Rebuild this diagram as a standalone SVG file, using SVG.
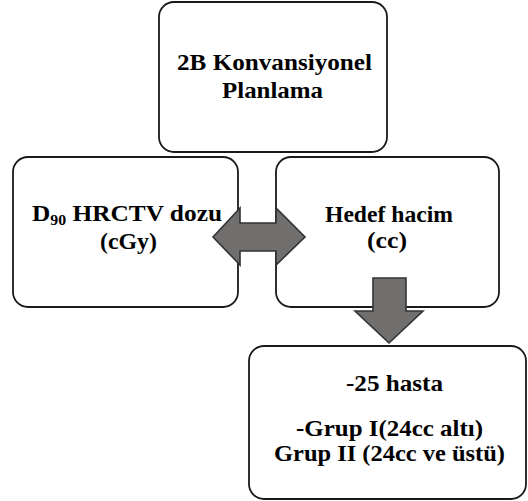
<svg xmlns="http://www.w3.org/2000/svg" width="528" height="501" viewBox="0 0 528 501">
<style>
.box{fill:#fff;stroke:#1a1a1a;stroke-width:1.8}
.arr{fill:#716e6e;stroke:#333;stroke-width:1.6;stroke-linejoin:miter}
.t{font-family:'Liberation Serif',serif;font-weight:700;font-size:24px;fill:#000}
</style>
<rect width="528" height="501" fill="#fff"/>
<g id="node-top">
<rect class="box" x="159" y="2" width="228" height="150" rx="15"/>
<text class="t" x="177" y="70" textLength="195" lengthAdjust="spacingAndGlyphs">2B Konvansiyonel</text>
<text class="t" x="222" y="98" textLength="101" lengthAdjust="spacingAndGlyphs">Planlama</text>
</g>
<g id="node-dose">
<rect class="box" x="13" y="157" width="225" height="150" rx="15"/>
<text class="t" x="32" y="221" textLength="190" lengthAdjust="spacingAndGlyphs">D<tspan font-size="15" dy="4">90</tspan><tspan dy="-4"> HRCTV dozu</tspan></text>
<text class="t" x="100" y="249" textLength="57" lengthAdjust="spacingAndGlyphs">(cGy)</text>
</g>
<g id="node-volume">
<rect class="box" x="276" y="157" width="223" height="150" rx="15"/>
<text class="t" x="325" y="222" textLength="128" lengthAdjust="spacingAndGlyphs">Hedef hacim</text>
<text class="t" x="367" y="248" textLength="40" lengthAdjust="spacingAndGlyphs">(cc)</text>
</g>
<g id="node-groups">
<rect class="box" x="249" y="346" width="277" height="153" rx="15"/>
<text class="t" x="346" y="391" textLength="97" lengthAdjust="spacingAndGlyphs">-25 hasta</text>
<text class="t" x="296" y="436" textLength="187" lengthAdjust="spacingAndGlyphs">-Grup I(24cc altı)</text>
<text class="t" x="274" y="461" textLength="231" lengthAdjust="spacingAndGlyphs">Grup II (24cc ve üstü)</text>
</g>
<g id="connectors">
<polygon class="arr" points="213,237 240,208 240,223 276,223 276,208 305,237 276,265 276,251 240,251 240,265"/>
<polygon class="arr" points="373,278 406,278 406,311 423,311 389,343 355,311 373,311"/>
</g>
</svg>
